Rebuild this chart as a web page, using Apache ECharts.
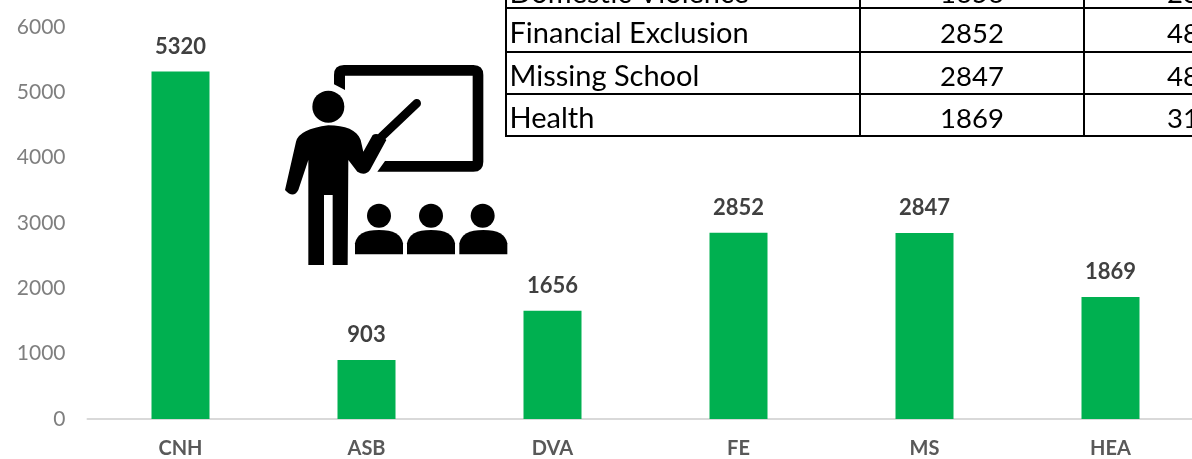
<!DOCTYPE html>
<html><head><meta charset="utf-8">
<style>html,body{margin:0;padding:0;background:#fff}#c{width:1192px;height:459px}</style>
<script src="https://cdn.jsdelivr.net/npm/echarts@6/dist/echarts.min.js"></script>
</head><body><div id="c"></div>
<script>
const categories = ['CNH','ASB','DVA','FE','MS','HEA'];
const values = [5320,903,1656,2852,2847,1869];
const tableNames = ['Domestic Violence','Financial Exclusion','Missing School','Health'];
const tableCounts = ['1656','2852','2847','1869'];
const tableThird = ['28','48','48','31'];
const rowCentres = [-6,34,77,119];

const chart = echarts.init(document.getElementById('c'));
const tf = 'Lato, "Open Sans", sans-serif';
let shapeId = 0;
function pathEl(d){
  const name = 'iconShape' + (shapeId++);
  echarts.graphic.registerShape(name, echarts.graphic.extendPath(d, {}));
  return {type:name, style:{fill:'#000'}};
}
const g = [];
const line = (x1,y1,x2,y2)=>({type:'line',z:10,shape:{x1,y1,x2,y2},style:{stroke:'#000',lineWidth:2}});
[8,52,94,136].forEach(y=>g.push(line(505,y,1192,y)));
[506,860,1084].forEach(x=>g.push(line(x,0,x,136)));
tableNames.forEach((n,i)=>{
  const y=rowCentres[i];
  const st={font:'29px '+tf,fill:'#000',textVerticalAlign:'middle'};
  const st2={font:'27.5px '+tf,fill:'#000',textVerticalAlign:'middle'};
  g.push({type:'text',z:11,style:{...st,text:n,x:509.5,y}});
  g.push({type:'text',z:11,style:{...st2,text:tableCounts[i],x:972,y,textAlign:'center'}});
  g.push({type:'text',z:11,style:{...st2,text:tableThird[i],x:1167,y}});
});
g.push({type:'group',x:270,y:55,scaleX:1/3,scaleY:1/3,z:9,children:[
  pathEl('M192 60 Q192 30 222 30 L610 30 Q640 30 640 60 L640 320 Q640 350 610 350 L322 350 L345 318 L608 318 L608 62 L225 62 L225 105 L192 88 Z'),
  {type:'circle',shape:{cx:175,cy:155,r:48},style:{fill:'#000'}},
  {type:'line',shape:{x1:335,y1:245,x2:440,y2:145},style:{stroke:'#000',lineWidth:26,lineCap:'round'}},
  pathEl('M175 211 C225 211 262 225 272 255 L280 290 L308 240 Q325 230 349 255 L300 345 Q285 365 262 350 L235 315 L233 630 L188 630 L188 420 L162 420 L162 630 L115 630 L115 315 L85 405 Q70 432 45 405 L78 260 Q88 222 175 211 Z'),
  ...[327,483,638].map(cx=>({type:'circle',shape:{cx,cy:482,r:36},style:{fill:'#000'}})),
  ...[327,483,640].map(cx=>pathEl(`M${cx-72} 598 L${cx-72} 565 Q${cx-65} 525 ${cx} 525 Q${cx+65} 525 ${cx+72} 565 L${cx+72} 598 Z`))
]});

chart.setOption({
  animation:false,
  backgroundColor:'#fff',
  grid:{left:87.5,width:1116,top:27,height:392,outerBoundsMode:'none'},
  xAxis:{type:'category',data:categories,
    axisLine:{lineStyle:{color:'#d9d9d9',width:2}},axisTick:{show:false},
    axisLabel:{color:'#595959',fontFamily:tf,fontWeight:'bold',fontSize:20,margin:20}},
  yAxis:{type:'value',min:0,max:6000,interval:1000,
    axisLine:{show:false},axisTick:{show:false},splitLine:{show:false},
    axisLabel:{color:'#7f7f7f',fontFamily:tf,fontSize:21,margin:22,formatter:v=>String(v)}},
  series:[{type:'bar',data:values,barWidth:58,itemStyle:{color:'#00b050'},
    label:{show:true,position:'top',distance:14,color:'#404040',fontFamily:tf,fontWeight:'bold',fontSize:22}}],
  graphic:g
});
</script></body></html>
